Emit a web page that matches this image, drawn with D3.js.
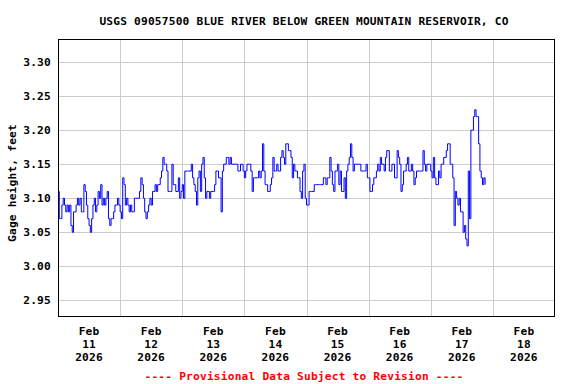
<!DOCTYPE html>
<html><head><meta charset="utf-8">
<script src="https://cdn.jsdelivr.net/npm/d3@7"></script>
<style>
html,body{margin:0;padding:0;background:#fff;}
svg{display:block;}
text{font-family:"DejaVu Sans Mono",monospace;font-weight:bold;font-size:11.2px;letter-spacing:0.2px;}
</style></head><body>
<svg id="chart" width="576" height="384"></svg>
<script>
const title = "USGS 09057500 BLUE RIVER BELOW GREEN MOUNTAIN RESERVOIR, CO";
const yLabel = "Gage height, feet";
const footnote = "---- Provisional Data Subject to Revision ----";
const yTicks = [2.95, 3.00, 3.05, 3.10, 3.15, 3.20, 3.25, 3.30];
const dayLabels = ["2026-02-11","2026-02-12","2026-02-13","2026-02-14","2026-02-15","2026-02-16","2026-02-17","2026-02-18"];
const gridDays = ["2026-02-12","2026-02-13","2026-02-14","2026-02-15","2026-02-16","2026-02-17","2026-02-18"];
const xDomain = ["2026-02-11T00:00", "2026-02-19T00:00"];
const yDomain = [2.927, 3.334];
const seriesStart = "2026-02-11T00:00";
const stepMinutes = 30;
const gageHeight = [
// Feb 11
3.11,3.07,3.07,3.09,3.10,3.09,3.08,3.09,3.08,3.09,3.06,3.05,
3.08,3.08,3.09,3.10,3.09,3.10,3.08,3.08,3.12,3.11,3.09,3.07,
3.06,3.05,3.07,3.09,3.10,3.08,3.09,3.11,3.10,3.12,3.09,3.10,
3.09,3.10,3.11,3.07,3.06,3.07,3.07,3.08,3.09,3.09,3.10,3.09,
// Feb 12
3.08,3.07,3.13,3.12,3.09,3.10,3.09,3.08,3.09,3.08,3.08,3.10,
3.10,3.10,3.10,3.11,3.13,3.12,3.10,3.08,3.07,3.08,3.09,3.10,
3.09,3.11,3.11,3.12,3.11,3.12,3.12,3.13,3.14,3.16,3.15,3.15,
3.14,3.11,3.11,3.11,3.15,3.12,3.12,3.11,3.11,3.13,3.10,3.11,
// Feb 13
3.12,3.10,3.14,3.14,3.14,3.14,3.14,3.15,3.13,3.12,3.11,3.09,
3.13,3.14,3.11,3.15,3.16,3.13,3.10,3.11,3.11,3.10,3.11,3.11,
3.11,3.12,3.14,3.14,3.13,3.13,3.08,3.14,3.15,3.15,3.16,3.16,
3.15,3.16,3.15,3.15,3.15,3.15,3.15,3.14,3.14,3.15,3.15,3.14,
// Feb 14
3.13,3.14,3.15,3.15,3.15,3.14,3.11,3.13,3.13,3.13,3.13,3.14,
3.13,3.14,3.18,3.14,3.12,3.12,3.11,3.11,3.12,3.13,3.16,3.14,
3.14,3.15,3.14,3.14,3.16,3.17,3.16,3.15,3.18,3.18,3.17,3.17,
3.16,3.13,3.15,3.14,3.14,3.13,3.13,3.11,3.10,3.14,3.15,3.10,
// Feb 15
3.09,3.09,3.11,3.11,3.11,3.11,3.12,3.12,3.12,3.12,3.12,3.12,
3.12,3.13,3.13,3.12,3.13,3.13,3.16,3.14,3.12,3.11,3.14,3.14,
3.15,3.12,3.14,3.11,3.11,3.13,3.10,3.14,3.15,3.16,3.18,3.16,
3.14,3.15,3.15,3.15,3.15,3.15,3.14,3.14,3.14,3.14,3.15,3.13,
// Feb 16
3.13,3.11,3.11,3.12,3.13,3.13,3.14,3.15,3.14,3.16,3.15,3.15,
3.14,3.16,3.17,3.17,3.14,3.14,3.15,3.15,3.13,3.13,3.17,3.16,
3.15,3.11,3.12,3.14,3.14,3.15,3.16,3.14,3.14,3.15,3.14,3.12,
3.13,3.14,3.14,3.14,3.14,3.14,3.17,3.15,3.14,3.15,3.15,3.15,
// Feb 17
3.14,3.13,3.16,3.13,3.12,3.12,3.14,3.13,3.15,3.15,3.16,3.16,
3.17,3.18,3.18,3.15,3.15,3.13,3.06,3.11,3.10,3.09,3.10,3.08,
3.08,3.05,3.06,3.04,3.03,3.14,3.07,3.20,3.20,3.22,3.23,3.22,
3.22,3.18,3.14,3.13,3.12,3.13,3.12
];

const parseT = d3.timeParse("%Y-%m-%dT%H:%M");
const parseD = d3.timeParse("%Y-%m-%d");
const t0 = parseT(seriesStart);
const data = gageHeight.map((v, i) => ({ t: d3.timeMinute.offset(t0, i * stepMinutes), v }));

const W = 576, H = 384;
const L = 58, R = 555, T = 39, B = 316;
const svg = d3.select("#chart");

const x = d3.scaleTime().domain(xDomain.map(parseT)).range([L, R]);
const y = d3.scaleLinear().domain(yDomain).range([B, T]);
const crisp = v => Math.round(v) + 0.5;

svg.append("rect").attr("x", 0).attr("y", 0).attr("width", W).attr("height", H).attr("fill", "#fff");

const g = svg.append("g").attr("shape-rendering", "crispEdges");
g.selectAll("line.h").data(yTicks).join("line")
  .attr("x1", L).attr("x2", R)
  .attr("y1", d => crisp(y(d))).attr("y2", d => crisp(y(d)))
  .attr("stroke", "#cccccc").attr("stroke-width", 1);
g.selectAll("line.v").data(gridDays.map(parseD)).join("line")
  .attr("y1", T).attr("y2", B)
  .attr("x1", d => crisp(x(d))).attr("x2", d => crisp(x(d)))
  .attr("stroke", "#cccccc").attr("stroke-width", 1);

svg.append("clipPath").attr("id", "clip").append("rect")
  .attr("x", L).attr("y", T).attr("width", R - L).attr("height", B - T);

const line = d3.line().x(d => x(d.t)).y(d => y(d.v)).curve(d3.curveStepAfter);
svg.append("path").datum(data)
  .attr("clip-path", "url(#clip)")
  .attr("d", line)
  .attr("fill", "none").attr("stroke", "#0000ff").attr("stroke-width", 1);

svg.append("rect").attr("x", L + 0.5).attr("y", T + 0.5)
  .attr("width", R - L - 1).attr("height", B - T)
  .attr("fill", "none").attr("stroke", "#000").attr("stroke-width", 1)
  .attr("shape-rendering", "crispEdges");

svg.selectAll("text.yt").data(yTicks).join("text")
  .attr("x", 51).attr("y", d => y(d) + 4)
  .attr("text-anchor", "end").attr("fill", "#000")
  .text(d => d3.format(".2f")(d));

const fMon = d3.timeFormat("%b"), fDay = d3.timeFormat("%d"), fYr = d3.timeFormat("%Y");
const xl = svg.selectAll("text.xt").data(dayLabels.map(parseD)).join("text")
  .attr("text-anchor", "middle").attr("fill", "#000");
xl.each(function(d) {
  const cx = x(d3.timeHour.offset(d, 12));
  const s = d3.select(this);
  s.append("tspan").attr("x", cx).attr("y", 335).text(fMon(d));
  s.append("tspan").attr("x", cx).attr("y", 348).text(fDay(d));
  s.append("tspan").attr("x", cx).attr("y", 361).text(fYr(d));
});

svg.append("text").attr("x", 304).attr("y", 25).attr("text-anchor", "middle")
  .attr("fill", "#000").text(title);

svg.append("text").attr("transform", "translate(16,183) rotate(-90)")
  .attr("text-anchor", "middle").attr("fill", "#000").text(yLabel);

svg.append("text").attr("x", 304).attr("y", 380).attr("text-anchor", "middle")
  .attr("fill", "#ff0000").text(footnote);
</script>
</body></html>
